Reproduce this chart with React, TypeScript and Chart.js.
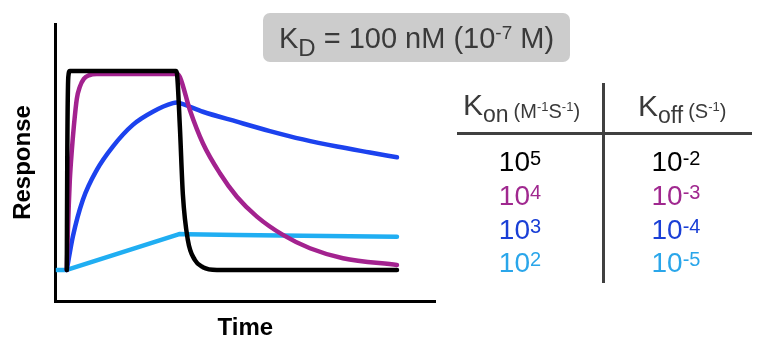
import React, { useEffect, useRef } from 'react';
import { Chart, registerables } from 'chart.js';

Chart.register(...registerables);

const FONT = "'Liberation Sans', Arial, sans-serif";

// Sensorgram data (time in s, response in RU)
const blackTime = [0, 0.5, 1.5, 3, 109, 110, 113, 116, 121, 128, 136, 150, 330];
const blackResp = [0, 60, 97, 100, 100, 99, 72, 38, 15, 5, 1.4, 0, 0];

const purpleTime = [0, 1, 2, 3, 5, 7, 10, 13, 17, 22, 30, 110, 113, 123, 136, 153, 170, 190, 216, 243, 276, 330];
const purpleResp = [0, 18, 33, 45, 60, 72, 86, 92, 96, 97.8, 98.5, 98.5, 97, 80.4, 63.7, 48.6, 36.8, 26.8, 17.6, 10.9, 5.9, 2.5];

const blueTime = [0, 6, 16, 30, 46, 66, 86, 106, 110, 113, 136, 170, 203, 236, 270, 303, 330];
const blueResp = [0, 16.7, 35.2, 50.3, 62, 72.9, 79.5, 83.8, 84.1, 83.8, 79.5, 74.5, 69.8, 65.6, 62, 59, 56.6];

const lightTime = [-10, 0, 110, 113, 120, 170, 236, 330];
const lightResp = [0, 0, 17.6, 18.1, 18, 17.6, 17.2, 16.7];

const seriesColors = ['#000000', '#a3228f', '#1c42ee', '#20aef2'];
const textColors = ['#000000', '#a0288f', '#1a3fd6', '#2aa6ea'];

const konExponents = ['5', '4', '3', '2'];
const koffExponents = ['-2', '-3', '-4', '-5'];

const toPoints = (t: number[], r: number[]) => t.map((x, i) => ({ x, y: r[i] }));

function App() {
  const canvasRef = useRef<HTMLCanvasElement | null>(null);

  useEffect(() => {
    if (!canvasRef.current) return;
    const chart = new Chart(canvasRef.current, {
      type: 'line',
      data: {
        datasets: [
          { label: 'kon 1e5 / koff 1e-2', data: toPoints(blackTime, blackResp), borderColor: seriesColors[0], cubicInterpolationMode: 'monotone' },
          { label: 'kon 1e4 / koff 1e-3', data: toPoints(purpleTime, purpleResp), borderColor: seriesColors[1], cubicInterpolationMode: 'monotone' },
          { label: 'kon 1e3 / koff 1e-4', data: toPoints(blueTime, blueResp), borderColor: seriesColors[2], cubicInterpolationMode: 'monotone' },
          { label: 'kon 1e2 / koff 1e-5', data: toPoints(lightTime, lightResp), borderColor: seriesColors[3], tension: 0 },
        ] as any,
      },
      options: {
        animation: false,
        responsive: false,
        maintainAspectRatio: false,
        layout: { padding: { left: 0, top: 24, right: 347, bottom: 0 } },
        elements: {
          point: { radius: 0, hoverRadius: 0 },
          line: { borderWidth: 4.5, fill: false, borderCapStyle: 'round', borderJoinStyle: 'round' },
        },
        plugins: { legend: { display: false }, tooltip: { enabled: false } },
        scales: {
          x: {
            type: 'linear',
            min: -11,
            max: 368,
            ticks: { display: false },
            grid: { display: false, drawTicks: false },
            border: { display: true, color: '#000000', width: 3 },
            title: {
              display: true,
              text: 'Time',
              color: '#000000',
              font: { family: FONT, size: 24, weight: 'bold' },
              padding: { top: 13, bottom: 9.2 },
            },
          },
          y: {
            type: 'linear',
            min: -15.6,
            max: 123.6,
            ticks: { display: false },
            grid: { display: false, drawTicks: false },
            border: { display: true, color: '#000000', width: 3 },
            title: {
              display: true,
              text: 'Response',
              color: '#000000',
              font: { family: FONT, size: 24, weight: 'bold' },
              padding: { top: 8.6, bottom: 18.4 },
            },
          },
        },
      } as any,
    });
    return () => chart.destroy();
  }, []);

  const rowTop = (baseline: number, size: number) => baseline - 0.8465 * size;
  const rowBaselines = [172, 206, 240, 273];

  const sup = (text: string, size: number, raise: number) => (
    <span style={{ fontSize: size, lineHeight: 0, position: 'relative', top: -raise }}>{text}</span>
  );
  const sub = (text: string, size: number, drop: number) => (
    <span style={{ fontSize: size, lineHeight: 0, position: 'relative', top: drop }}>{text}</span>
  );

  return (
    <div style={{ position: 'absolute', left: 0, top: 0, width: 782, height: 352, background: '#ffffff', fontFamily: FONT }}>
      <canvas ref={canvasRef} width={782} height={352} style={{ position: 'absolute', left: 0, top: 0, width: 782, height: 352 }} />

      {/* KD box */}
      <div style={{ position: 'absolute', left: 263, top: 13, width: 307, height: 49, background: '#cccccc', borderRadius: 7 }}>
        <div style={{ position: 'absolute', left: 0, right: 0, top: rowTop(49, 29) - 13, fontSize: 29, lineHeight: '29px', textAlign: 'center', whiteSpace: 'nowrap', color: '#3a3a3a' }}>
          K{sub('D', 24, 8)} = 100 nM (10{sup('-7', 19, 9)} M)
        </div>
      </div>

      {/* table headers */}
      <div style={{ position: 'absolute', left: 463, top: rowTop(115, 30), fontSize: 30, lineHeight: '30px', whiteSpace: 'nowrap', color: '#3a3a3a' }}>
        K{sub('on', 23, 7)}
        <span style={{ fontSize: 20, lineHeight: 0, position: 'relative', top: 3, marginLeft: 5 }}>
          (M{sup('-1', 13, 7)}S{sup('-1', 13, 7)})
        </span>
      </div>
      <div style={{ position: 'absolute', left: 638, top: rowTop(116, 30), fontSize: 30, lineHeight: '30px', whiteSpace: 'nowrap', color: '#3a3a3a' }}>
        K{sub('off', 23, 7)}
        <span style={{ fontSize: 20, lineHeight: 0, position: 'relative', top: 2, marginLeft: 5 }}>
          (S{sup('-1', 13, 7)})
        </span>
      </div>

      {/* table lines */}
      <div style={{ position: 'absolute', left: 457, top: 132, width: 295, height: 3, background: '#404040' }} />
      <div style={{ position: 'absolute', left: 601.5, top: 83, width: 3, height: 200, background: '#404040' }} />

      {/* table rows */}
      {konExponents.map((e, i) => (
        <div key={'kon' + i} style={{ position: 'absolute', left: 460, width: 120, top: rowTop(rowBaselines[i], 28), fontSize: 28, lineHeight: '28px', textAlign: 'center', whiteSpace: 'nowrap', color: textColors[i] }}>
          10{sup(e, 20, 6)}
        </div>
      ))}
      {koffExponents.map((e, i) => (
        <div key={'koff' + i} style={{ position: 'absolute', left: 616, width: 120, top: rowTop(rowBaselines[i], 28), fontSize: 28, lineHeight: '28px', textAlign: 'center', whiteSpace: 'nowrap', color: textColors[i] }}>
          10{sup(e, 20, 6)}
        </div>
      ))}
    </div>
  );
}

export default App;
